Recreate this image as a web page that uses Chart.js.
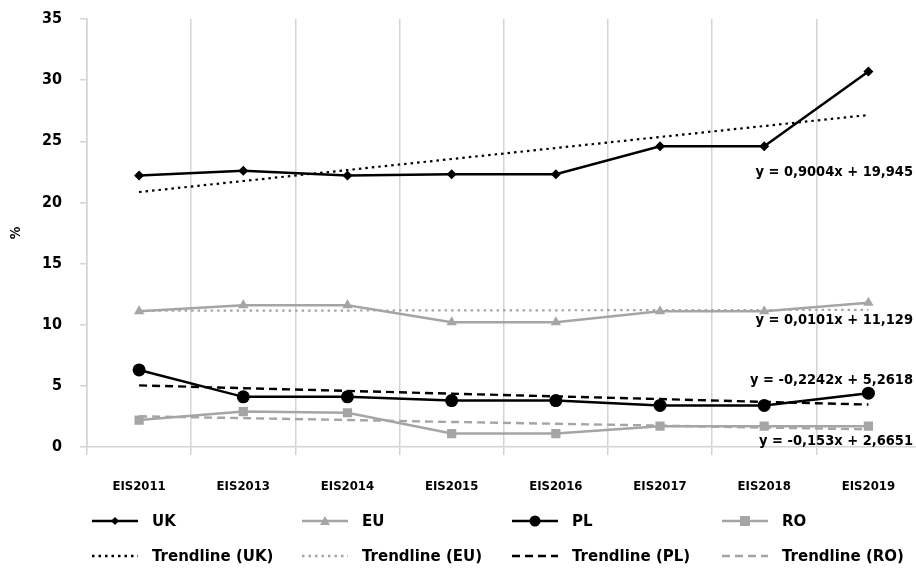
<!DOCTYPE html>
<html>
<head>
<meta charset="utf-8">
<script src="https://cdn.jsdelivr.net/npm/chart.js@4.4.1/dist/chart.umd.min.js"></script>
<style>
  html, body { margin: 0; padding: 0; background: #fff; }
  #wrap { position: relative; width: 916px; height: 570px; overflow: hidden; }
  #chart { position: absolute; left: 0; top: 0; }
  .legend-item {
    position: absolute; display: flex; align-items: center;
    font-family: "DejaVu Sans", sans-serif;
    font-weight: bold; font-size: 15px; color: #000; white-space: nowrap;
  }
  .legend-item canvas { margin-right: 14px; }
</style>
</head>
<body>
<div id="wrap">
  <canvas id="chart" width="927" height="570"></canvas>
</div>
<script>
// --- Datos ---
const categories = ['EIS2011', 'EIS2013', 'EIS2014', 'EIS2015', 'EIS2016', 'EIS2017', 'EIS2018', 'EIS2019'];

const ukValues = [22.2, 22.6, 22.2, 22.3, 22.3, 24.6, 24.6, 30.7];
const euValues = [11.1, 11.6, 11.6, 10.2, 10.2, 11.1, 11.1, 11.8];
const plValues = [6.3, 4.1, 4.1, 3.8, 3.8, 3.4, 3.4, 4.4];
const roValues = [2.2, 2.9, 2.8, 1.1, 1.1, 1.7, 1.7, 1.7];

const ukTrend = [20.85, 21.75, 22.65, 23.55, 24.45, 25.35, 26.25, 27.15];
const euTrend = [11.14, 11.15, 11.16, 11.17, 11.18, 11.19, 11.20, 11.21];
const plTrend = [5.04, 4.81, 4.59, 4.36, 4.14, 3.92, 3.69, 3.47];
const roTrend = [2.51, 2.36, 2.21, 2.05, 1.90, 1.75, 1.59, 1.44];

const trendEquations = ['y = 0,9004x + 19,945', 'y = 0,0101x + 11,129', 'y = -0,2242x + 5,2618', 'y = -0,153x + 2,6651'];
const yTickLabels = ['0', '5', '10', '15', '20', '25', '30', '35'];

const FONT_C = '"DejaVu Sans Condensed", "DejaVu Sans", sans-serif';
const BLACK = '#000000';
const GRAY = '#a5a5a5';
const GRID = '#d4d4d4';
const VISIBLE_WIDTH = 916;

// valor del eje y donde se apoya cada ecuación (anclado a la escala)
const equationAnchors = [22.5, 10.4, 5.5, 0.5];

const equationPlugin = {
  id: 'equations',
  afterDatasetsDraw(chart) {
    const { ctx, chartArea, scales } = chart;
    const right = Math.min(chartArea.right, VISIBLE_WIDTH) - 3;
    ctx.save();
    ctx.font = 'bold 14.5px ' + FONT_C;
    ctx.fillStyle = BLACK;
    ctx.textAlign = 'right';
    ctx.textBaseline = 'middle';
    trendEquations.forEach((txt, i) => {
      ctx.fillText(txt, right, scales.y.getPixelForValue(equationAnchors[i]));
    });
    ctx.restore();
  }
};

function lineSet(label, data, color, style, radius, dash, width) {
  return {
    label: label,
    data: data,
    borderColor: color,
    backgroundColor: color,
    borderWidth: width,
    borderDash: dash,
    pointStyle: style,
    pointRadius: radius,
    pointHoverRadius: radius,
    pointBorderWidth: 0,
    tension: 0,
    fill: false
  };
}

const datasets = [
  lineSet('UK', ukValues, BLACK, 'rectRot', 5, [], 2.5),
  lineSet('EU', euValues, GRAY, 'triangle', 6, [], 2.5),
  lineSet('PL', plValues, BLACK, 'circle', 6.5, [], 2.5),
  lineSet('RO', roValues, GRAY, 'rect', 6.5, [], 2.5),
  lineSet('Trendline (UK)', ukTrend, BLACK, false, 0, [2.5, 4], 2.2),
  lineSet('Trendline (EU)', euTrend, GRAY, false, 0, [2.5, 4], 2.2),
  lineSet('Trendline (PL)', plTrend, BLACK, false, 0, [8, 5], 2.4),
  lineSet('Trendline (RO)', roTrend, GRAY, false, 0, [8, 5], 2.4)
];

const chart = new Chart(document.getElementById('chart'), {
  type: 'line',
  data: { labels: categories, datasets: datasets },
  options: {
    responsive: false,
    animation: false,
    layout: { padding: { top: 19, right: 0, bottom: 0, left: 0 } },
    plugins: {
      legend: { display: false },
      tooltip: { enabled: false }
    },
    scales: {
      x: {
        offset: true,
        grid: { offset: true, color: GRID, lineWidth: 1.5, tickLength: 8, drawOnChartArea: true },
        border: { color: GRID, width: 1.5 },
        ticks: { color: BLACK, font: { family: FONT_C, size: 13, weight: 'bold' }, padding: 24, maxRotation: 0 },
        afterFit(scale) {
          scale.height = 123;
          scale.paddingLeft = 0;
          scale.paddingRight = 0;
        }
      },
      y: {
        min: 0,
        max: 35,
        ticks: {
          stepSize: 5,
          color: BLACK,
          padding: 18,
          font: { family: FONT_C, size: 16, weight: 'bold' },
          callback: (v, i) => yTickLabels[i]
        },
        grid: { drawOnChartArea: false, drawTicks: true, tickLength: 7, color: GRID, lineWidth: 1.5 },
        border: { color: GRID, width: 1.5 },
        title: { display: true, text: '%', color: BLACK, font: { family: FONT_C, size: 14, weight: 'bold' }, padding: { top: 8, bottom: 0 } },
        afterFit(scale) {
          scale.width = 87;
          scale.paddingTop = 0;
          scale.paddingBottom = 0;
        }
      }
    }
  },
  plugins: [equationPlugin]
});

// --- Leyenda en HTML ---
const legendItems = [
  { label: 'UK', color: BLACK, marker: 'diamond', dash: [], col: 0, row: 0 },
  { label: 'EU', color: GRAY, marker: 'triangle', dash: [], col: 1, row: 0 },
  { label: 'PL', color: BLACK, marker: 'circle', dash: [], col: 2, row: 0 },
  { label: 'RO', color: GRAY, marker: 'square', dash: [], col: 3, row: 0 },
  { label: 'Trendline (UK)', color: BLACK, marker: null, dash: [2.5, 4], col: 0, row: 1 },
  { label: 'Trendline (EU)', color: GRAY, marker: null, dash: [2.5, 4], col: 1, row: 1 },
  { label: 'Trendline (PL)', color: BLACK, marker: null, dash: [8, 5], col: 2, row: 1 },
  { label: 'Trendline (RO)', color: GRAY, marker: null, dash: [8, 5], col: 3, row: 1 }
];

const wrap = document.getElementById('wrap');
legendItems.forEach(item => {
  const div = document.createElement('div');
  div.className = 'legend-item';
  div.style.left = (92 + item.col * 210) + 'px';
  div.style.top = (512 + item.row * 35) + 'px';
  const c = document.createElement('canvas');
  c.width = 46; c.height = 14;
  const g = c.getContext('2d');
  g.strokeStyle = item.color;
  g.fillStyle = item.color;
  g.lineWidth = 2.4;
  g.setLineDash(item.dash);
  g.beginPath(); g.moveTo(0, 7); g.lineTo(46, 7); g.stroke();
  g.setLineDash([]);
  g.beginPath();
  if (item.marker === 'diamond') {
    g.moveTo(23, 3); g.lineTo(27, 7); g.lineTo(23, 11); g.lineTo(19, 7);
  } else if (item.marker === 'triangle') {
    g.moveTo(23, 2); g.lineTo(28, 11); g.lineTo(18, 11);
  } else if (item.marker === 'circle') {
    g.arc(23, 7, 5.5, 0, Math.PI * 2);
  } else if (item.marker === 'square') {
    g.rect(18, 2, 10, 10);
  }
  g.fill();
  div.appendChild(c);
  const span = document.createElement('span');
  span.textContent = item.label;
  div.appendChild(span);
  wrap.appendChild(div);
});
</script>
</body>
</html>
